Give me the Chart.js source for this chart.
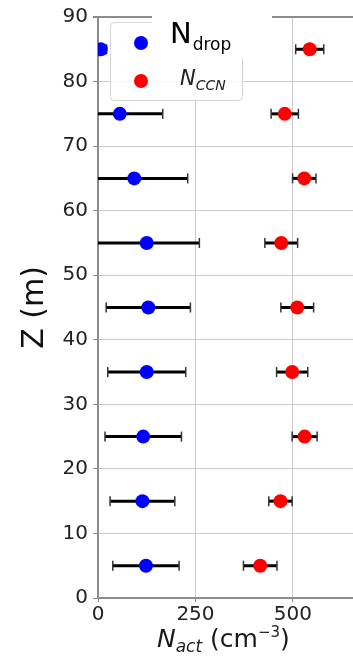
<!DOCTYPE html>
<html>
<head>
<meta charset="utf-8">
<script src="https://cdn.jsdelivr.net/npm/chart.js@4"></script>
<style>
  html, body { margin: 0; padding: 0; background: #fff; overflow: hidden; }
  #wrap { width: 353px; height: 658px; position: relative; overflow: hidden; }
</style>
</head>
<body>
<div id="wrap"><canvas id="chart" width="360" height="658"></canvas></div>
<script>
// heights (m) and activated number concentrations (cm^-3)
const heights = [5, 15, 25, 35, 45, 55, 65, 75, 85];
const nDrop = [123, 114, 116, 125, 129, 125, 93, 56, 7];
const nDropErr = [85, 83, 98, 100, 108, 135, 137, 110, 15];
const nCcn = [416, 468, 530, 498, 511, 470, 529, 479, 543];
const nCcnErr = [43, 30, 32, 40, 42, 42, 30, 35, 36];
const xTicks = [0, 250, 500];

const FONT = 'DejaVu Sans';

function errorBars(means, errs) {
  return heights.map((h, i) => ({
    data: [{ x: means[i] - errs[i], y: h }, { x: means[i] + errs[i], y: h }],
    showLine: true,
    borderColor: '#000',
    borderWidth: 3,
    pointStyle: 'line',
    pointRotation: 90,
    pointRadius: 5,
    pointHoverRadius: 5,
    pointBorderColor: '#333',
    pointBorderWidth: 1.5,
    order: 1,
    clip: 0
  }));
}

function markers(means, color) {
  return {
    data: heights.map((h, i) => ({ x: means[i], y: h })),
    backgroundColor: color,
    borderColor: color,
    pointRadius: 7,
    pointHoverRadius: 7,
    borderWidth: 0,
    order: 0,
    clip: 0
  };
}

// legend and x title with sub/superscripts
const extras = {
  id: 'extras',
  afterDraw(chart) {
    const ctx = chart.ctx;
    ctx.save();

    // x title: N_act (cm^-3)
    let x = 157;
    const base = 647;
    const parts = [
      ['italic 25px ' + FONT, 'N', 0],
      ['italic 17px ' + FONT, 'act', 5],
      ['25px ' + FONT, ' (cm', 0],
      ['15px ' + FONT, '\u22123', -10],
      ['25px ' + FONT, ')', 0]
    ];
    ctx.fillStyle = '#1a1a1a';
    ctx.textBaseline = 'alphabetic';
    ctx.textAlign = 'left';
    parts.forEach(([f, t, dy]) => {
      ctx.font = f;
      ctx.fillText(t, x, base + dy);
      x += ctx.measureText(t).width;
    });

    // legend frame
    ctx.beginPath();
    ctx.roundRect(110.5, 22.5, 132, 78, 4);
    ctx.fillStyle = 'rgba(255,255,255,0.8)';
    ctx.fill();
    ctx.strokeStyle = '#d4d4d4';
    ctx.lineWidth = 1;
    ctx.stroke();

    ctx.fillStyle = '#fff';
    ctx.fillRect(152, 0, 120, 58);

    ctx.fillStyle = '#0000ff';
    ctx.beginPath(); ctx.arc(141, 43, 7, 0, Math.PI * 2); ctx.fill();
    ctx.fillStyle = '#ff0000';
    ctx.beginPath(); ctx.arc(141, 81, 7, 0, Math.PI * 2); ctx.fill();

    ctx.fillStyle = '#000';
    ctx.font = '29px ' + FONT;
    ctx.fillText('N', 170, 43);
    let w = ctx.measureText('N').width;
    ctx.font = '17px ' + FONT;
    ctx.fillText('drop', 170 + w + 1, 50);

    ctx.fillStyle = '#222';
    ctx.font = 'italic 21px ' + FONT;
    ctx.fillText('N', 180, 85);
    w = ctx.measureText('N').width;
    ctx.font = 'italic 14px ' + FONT;
    ctx.fillText('CCN', 180 + w, 90);

    ctx.restore();
  }
};

new Chart(document.getElementById('chart'), {
  type: 'scatter',
  data: {
    datasets: [
      markers(nDrop, '#0000ff'),
      markers(nCcn, '#ff0000'),
      ...errorBars(nDrop, nDropErr),
      ...errorBars(nCcn, nCcnErr)
    ]
  },
  options: {
    responsive: false,
    animation: false,
    events: [],
    layout: { padding: { top: 13, right: 0, left: 0, bottom: 0 } },
    plugins: { legend: { display: false }, tooltip: { enabled: false } },
    scales: {
      x: {
        type: 'linear',
        min: 0,
        max: 654,
        afterBuildTicks: (axis) => { axis.ticks = xTicks.map(v => ({ value: v })); },
        afterFit: (axis) => { axis.height = 60; },
        ticks: { color: '#222', padding: 1, font: { family: FONT, size: 20 } },
        grid: {
          color: (c) => (c.tick && c.tick.value === 0 ? 'rgba(0,0,0,0)' : '#cccccc'),
          tickColor: '#888',
          tickLength: 4,
          lineWidth: 1
        },
        border: { display: true, color: '#8c8c8c', width: 2 }
      },
      y: {
        min: 0,
        max: 90,
        afterFit: (axis) => { axis.width = 98; },
        ticks: { stepSize: 10, color: '#222', padding: 5, font: { family: FONT, size: 20 } },
        grid: {
          color: (c) => (c.tick && c.tick.value === 90 ? '#8c8c8c' : (c.tick && c.tick.value === 0 ? 'rgba(0,0,0,0)' : '#cccccc')),
          lineWidth: (c) => (c.tick && c.tick.value === 90 ? 2 : 1),
          tickColor: '#888',
          tickLength: 5
        },
        border: { display: true, color: '#8c8c8c', width: 2 },
        title: {
          display: true,
          text: 'Z (m)',
          color: '#111',
          padding: { top: 17, bottom: 0 },
          font: { family: FONT, size: 30 }
        }
      }
    }
  },
  plugins: [extras]
});
</script>
</body>
</html>
